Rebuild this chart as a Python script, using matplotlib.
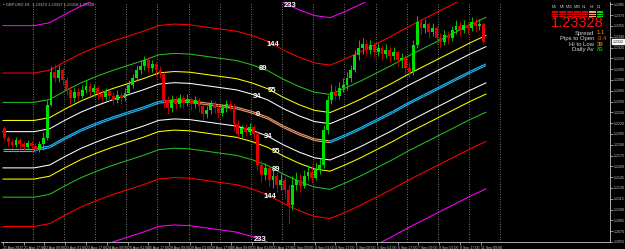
import numpy as np
import matplotlib
matplotlib.use("Agg")
import matplotlib.pyplot as plt
from matplotlib.colors import ListedColormap

plt.rcParams['font.family'] = ['Liberation Sans', 'DejaVu Sans']

# ---------------- data ----------------
title_text = "GBPUSD,H1  1.23329 1.23337 1.23318 1.23328"
first_open = 1.2213
# 3-hour candles (each spans 3 H1 bars)
closes = [1.2199, 1.2194, 1.2190, 1.2197, 1.2191, 1.2187, 1.2192, 1.2188, 1.2184, 1.2191,
          1.2199, 1.2245, 1.2291, 1.2283, 1.2294, 1.2280, 1.2266, 1.2255, 1.2263, 1.2258,
          1.2266, 1.2272, 1.2263, 1.2269, 1.2260, 1.2256, 1.2265, 1.2258, 1.2252, 1.2259,
          1.2255, 1.2262, 1.2273, 1.2283, 1.2294, 1.2299, 1.2308, 1.2297, 1.2302, 1.2294,
          1.2288, 1.2252, 1.2241, 1.2252, 1.2247, 1.2255, 1.2248, 1.2254, 1.2247, 1.2252,
          1.2244, 1.2233, 1.2238, 1.2247, 1.2241, 1.2234, 1.2241, 1.2247, 1.2244, 1.2219,
          1.2205, 1.2213, 1.2208, 1.2215, 1.2205, 1.2162, 1.2148, 1.2158, 1.2141, 1.2147,
          1.2134, 1.2141, 1.2127, 1.2106, 1.2134, 1.2141, 1.2133, 1.2147, 1.2152, 1.2144,
          1.2155, 1.2162, 1.2210, 1.2252, 1.2263, 1.2258, 1.2269, 1.2273, 1.2283, 1.2294,
          1.2315, 1.2324, 1.2330, 1.2322, 1.2329, 1.2319, 1.2324, 1.2316, 1.2322, 1.2313,
          1.2319, 1.2308, 1.2310, 1.2297, 1.2291, 1.2329, 1.2360, 1.2352, 1.2358, 1.2347,
          1.2352, 1.2338, 1.2333, 1.2342, 1.2338, 1.2349, 1.2355, 1.2349, 1.2356, 1.2352,
          1.2360, 1.2355, 1.2358, 1.2333]
highs = [1.2216, 1.2202, 1.2198, 1.2201, 1.2199, 1.2195, 1.2197, 1.2195, 1.2192, 1.2195,
         1.2208, 1.2252, 1.2299, 1.2302, 1.2301, 1.2297, 1.2284, 1.2272, 1.2269, 1.2269,
         1.2273, 1.2280, 1.2276, 1.2274, 1.2272, 1.2266, 1.2269, 1.2267, 1.2263, 1.2266,
         1.2263, 1.2269, 1.2280, 1.2288, 1.2301, 1.2308, 1.2313, 1.2312, 1.2308, 1.2305,
         1.2299, 1.2291, 1.2258, 1.2259, 1.2258, 1.2260, 1.2259, 1.2260, 1.2256, 1.2258,
         1.2255, 1.2247, 1.2244, 1.2252, 1.2251, 1.2247, 1.2247, 1.2252, 1.2252, 1.2248,
         1.2224, 1.2217, 1.2219, 1.2220, 1.2217, 1.2210, 1.2169, 1.2165, 1.2160, 1.2155,
         1.2152, 1.2149, 1.2147, 1.2134, 1.2147, 1.2152, 1.2149, 1.2155, 1.2162, 1.2160,
         1.2165, 1.2172, 1.2217, 1.2259, 1.2274, 1.2272, 1.2277, 1.2283, 1.2291, 1.2301,
         1.2322, 1.2335, 1.2338, 1.2335, 1.2335, 1.2333, 1.2331, 1.2329, 1.2330, 1.2327,
         1.2326, 1.2322, 1.2317, 1.2315, 1.2305, 1.2335, 1.2369, 1.2366, 1.2365, 1.2360,
         1.2359, 1.2355, 1.2345, 1.2349, 1.2348, 1.2355, 1.2363, 1.2360, 1.2363, 1.2360,
         1.2367, 1.2366, 1.2365, 1.2360]
lows = [1.2197, 1.2188, 1.2185, 1.2187, 1.2184, 1.2183, 1.2184, 1.2180, 1.2179, 1.2180,
        1.2183, 1.2197, 1.2244, 1.2277, 1.2277, 1.2273, 1.2259, 1.2247, 1.2249, 1.2252,
        1.2255, 1.2262, 1.2258, 1.2258, 1.2254, 1.2249, 1.2252, 1.2251, 1.2245, 1.2248,
        1.2247, 1.2251, 1.2259, 1.2269, 1.2280, 1.2288, 1.2294, 1.2291, 1.2291, 1.2285,
        1.2283, 1.2241, 1.2233, 1.2235, 1.2240, 1.2242, 1.2241, 1.2244, 1.2238, 1.2241,
        1.2235, 1.2224, 1.2227, 1.2233, 1.2234, 1.2227, 1.2230, 1.2235, 1.2238, 1.2210,
        1.2199, 1.2201, 1.2202, 1.2204, 1.2197, 1.2155, 1.2138, 1.2141, 1.2133, 1.2130,
        1.2124, 1.2127, 1.2116, 1.2080, 1.2099, 1.2127, 1.2124, 1.2130, 1.2141, 1.2137,
        1.2141, 1.2149, 1.2158, 1.2205, 1.2247, 1.2252, 1.2254, 1.2263, 1.2266, 1.2277,
        1.2291, 1.2308, 1.2316, 1.2313, 1.2316, 1.2312, 1.2313, 1.2308, 1.2310, 1.2305,
        1.2308, 1.2299, 1.2297, 1.2288, 1.2284, 1.2287, 1.2324, 1.2344, 1.2345, 1.2338,
        1.2341, 1.2330, 1.2324, 1.2329, 1.2330, 1.2334, 1.2344, 1.2341, 1.2345, 1.2344,
        1.2348, 1.2347, 1.2349, 1.2330]
bars_per_candle = 3

# centre line of the band indicator, one value every 12 H1 bars
center = [1.2183, 1.2183, 1.2183, 1.2187, 1.2199, 1.2210, 1.2219, 1.2227, 1.2234, 1.2241,
          1.2249, 1.2251, 1.2250, 1.2247, 1.2244, 1.2241, 1.2235, 1.2227, 1.2215, 1.2205,
          1.2197, 1.2194, 1.2203, 1.2213, 1.2224, 1.2235, 1.2247, 1.2258, 1.2269, 1.2280,
          1.2291, 1.2301]
center_step = 12
fib_levels = [34, 55, 89, 144, 233]
band_unit = 0.000074
band_colors = ['#ffffff', '#ffff00', '#22c022', '#ff0000', '#ff00ff']
# H1 bar at which each level's label sits (upper / lower band)
label_bar_upper = [196, 207, 200, 208, 221]
label_bar_lower = [204, 210, 210, 206, 198]
zero_label_bar = 196

time_labels = ["21 Aug 2023", "21 Aug 17:00", "22 Aug 09:00", "23 Aug 01:00", "23 Aug 17:00",
               "24 Aug 09:00", "25 Aug 01:00", "25 Aug 17:00", "28 Aug 09:00", "29 Aug 01:00",
               "29 Aug 17:00", "30 Aug 09:00", "31 Aug 01:00", "31 Aug 17:00", "1 Sep 09:00",
               "4 Sep 01:00", "4 Sep 17:00", "5 Sep 09:00", "6 Sep 01:00", "6 Sep 17:00",
               "7 Sep 09:00", "8 Sep 01:00", "8 Sep 17:00", "11 Sep 09:00"]
time_label_step = 16
day_starts = [23, 47, 71, 95, 119, 143, 167, 191, 215, 239, 263, 287, 311, 335, 359, 383]

price_ticks = [1.2055, 1.2070, 1.2085, 1.2100, 1.2115, 1.2130, 1.2145, 1.2160, 1.2175,
               1.2190, 1.2205, 1.2220, 1.2235, 1.2250, 1.2265, 1.2280, 1.2295, 1.2310,
               1.2325, 1.2340, 1.2355, 1.2370, 1.2385]
current_price = "1.23328"

panel_headers = ["M1", "M5", "M15", "M30", "H1", "H4", "D1"]
panel_colors = ['#e00000', '#e00000', '#e00000', '#e00000', '#e00000', '#ffa070', '#00e000']
info_labels = ["Spread", "Pips to Open", "Hi to Low", "Daily Av"]
info_values = ["1.1", "-3.4", "39", "83"]
info_colors = ['#ff9a00', '#ff5a00', '#ffb000', '#00e000']

# ---------------- figure ----------------
W, H = 625, 249
fig = plt.figure(figsize=(W / 100, H / 100), dpi=100, facecolor='black')
ax = fig.add_axes([1 / W, 1 - 242 / H, 609 / W, 240 / H], facecolor='black')
ax.set_xlim(-1.5, 467.6)
ax.set_ylim(1.205489, 1.238822)

# day separators
for d in day_starts:
    ax.axvline(d, color='#9a9a9a', lw=0.6, ls=(0, (1, 2)), zorder=1)

# bands
cx = np.arange(len(center)) * center_step
cv = np.array(center)
for lvl, col in zip(fib_levels, band_colors):
    for s in (1, -1):
        ax.plot(cx, cv + s * lvl * band_unit, color=col, lw=0.75, zorder=2)

# centre double line, cyan when rising, orange when falling
gap = 0.00012
for i in range(len(cv) - 1):
    col = '#20c0ff' if cv[i + 1] >= cv[i] else '#f0a070'
    for g in (-gap, gap):
        ax.plot(cx[i:i + 2], cv[i:i + 2] + g, color=col, lw=0.8, zorder=3,
                solid_capstyle='butt')

# candles
c = np.array(closes)
o = np.concatenate([[first_open], c[:-1]])
hi = np.array(highs)
lo = np.array(lows)
xb = np.arange(len(c)) * bars_per_candle + 1
up = c >= o
cols = np.where(up, '#00e000', '#e00000')
ax.vlines(xb, lo, hi, colors=cols, lw=0.6, zorder=4)
body_lo = np.minimum(o, c)
body_h = np.maximum(np.abs(c - o), 0.00005)
ax.bar(xb, body_h, bottom=body_lo, width=2.2, color=cols, linewidth=0, zorder=5)

# band labels
lab_kw = dict(color='white', fontsize=5.5, fontweight='bold', ha='center', va='center', zorder=6)
for lvl, bu, bl in zip(fib_levels, label_bar_upper, label_bar_lower):
    yu = np.interp(bu, cx, cv) + lvl * band_unit
    yl = np.interp(bl, cx, cv) - lvl * band_unit
    ax.text(bu, yu, str(lvl), clip_on=True, **lab_kw)
    ax.text(bl, yl, str(lvl), clip_on=True, **lab_kw)
ax.text(zero_label_bar, np.interp(zero_label_bar, cx, cv), "0", **lab_kw)

# axes styling
for sp in ('top', 'left'):
    ax.spines[sp].set_visible(False)
for sp in ('right', 'bottom'):
    ax.spines[sp].set_color('#c8c8c8')
    ax.spines[sp].set_linewidth(0.6)
ax.yaxis.tick_right()
ax.set_yticks(price_ticks)
ax.set_yticklabels([f"{p:.4f}" for p in price_ticks])
ax.set_xticks(np.arange(len(time_labels)) * time_label_step)
ax.set_xticklabels(time_labels)
ax.tick_params(axis='both', colors='#c8c8c8', labelsize=2.6, length=1.8, width=0.5, pad=0.8)
for lbl in ax.get_xticklabels():
    lbl.set_ha('left')

# current price box on the price scale
ax.text(1.004, closes[-1], current_price[:6], transform=ax.get_yaxis_transform(),
        fontsize=2.6, color='black', ha='left', va='center',
        bbox=dict(boxstyle='square,pad=0.2', fc='white', ec='white'), zorder=10, clip_on=False)

# title
fig.text(3 / W, 1 - 4.5 / H, "\u25aa " + title_text, color='#b8b8b8', fontsize=3.0,
         ha='left', va='center')

# info panel
for k, hname in enumerate(panel_headers):
    fig.text((554.7 + 7.4 * k) / W, 1 - 7 / H, hname, color='#c8c8c8', fontsize=2.6,
             ha='center', va='center')
pax = fig.add_axes([551 / W, 1 - 17 / H, 52 / W, 6.5 / H], facecolor='black')
grid = np.tile(np.arange(len(panel_colors)), (3, 1))
pax.pcolormesh(grid, cmap=ListedColormap(panel_colors), edgecolors='black', linewidth=0.4,
               vmin=-0.5, vmax=len(panel_colors) - 0.5)
pax.set_axis_off()

fig.text(604 / W, 1 - 23 / H, current_price, color='#ff1010', fontsize=10.5,
         ha='right', va='center')
for k, (lab, val, vc) in enumerate(zip(info_labels, info_values, info_colors)):
    yy = 1 - (33 + 5.5 * k) / H
    fig.text(594 / W, yy, lab, color='#d8d8d8', fontsize=4.3, ha='right', va='center')
    fig.text(597 / W, yy, val, color=vc, fontsize=4.3, ha='left', va='center')

fig.savefig("out.png", dpi=100, facecolor='black')
